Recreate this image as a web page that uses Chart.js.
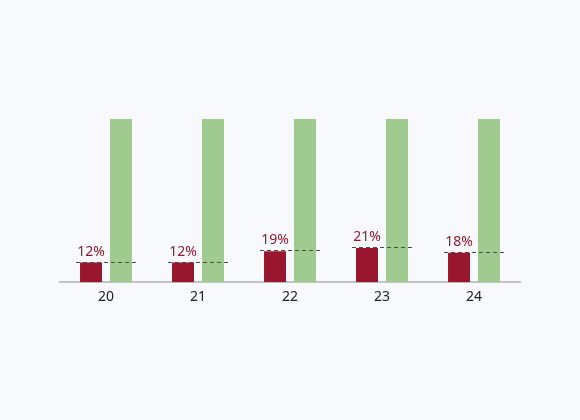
<!DOCTYPE html>
<html>
<head>
<meta charset="utf-8">
<script src="https://cdn.jsdelivr.net/npm/chart.js@4.4.1/dist/chart.umd.min.js"></script>
<style>
html,body{margin:0;padding:0;background:#f7f9fd;}
#wrap{width:580px;height:420px;}
</style>
</head>
<body>
<div id="wrap"><canvas id="c"></canvas></div>
<script>
const categories = ["20", "21", "22", "23", "24"];
const shareValues = [12, 12, 19, 21, 18];
const totalValues = [100, 100, 100, 100, 100];

const RED = "#98172e";
const GREEN = "#9fcb8f";

const overlayPlugin = {
  id: "overlay",
  afterDatasetsDraw(chart) {
    const ctx = chart.ctx;
    const m0 = chart.getDatasetMeta(0);
    const m1 = chart.getDatasetMeta(1);
    ctx.save();
    m0.data.forEach((bar, i) => {
      const g = m1.data[i];
      const x1 = bar.x - bar.width / 2 - 4;
      const x2 = g.x + g.width / 2 + 4;
      const y = Math.round(bar.y) - 0.5;
      ctx.beginPath();
      ctx.setLineDash([4, 3]);
      ctx.strokeStyle = "#4a4a4a";
      ctx.lineWidth = 1;
      ctx.moveTo(x1, y);
      ctx.lineTo(x2, y);
      ctx.stroke();
      ctx.setLineDash([]);
      ctx.fillStyle = RED;
      ctx.font = "14px 'Noto Sans'";
      ctx.textAlign = "center";
      ctx.textBaseline = "bottom";
      ctx.fillText(shareValues[i] + "%", bar.x, bar.y - 4);
    });
    ctx.restore();
  }
};

new Chart(document.getElementById("c"), {
  type: "bar",
  data: {
    labels: categories,
    datasets: [
      { data: shareValues, backgroundColor: RED, barPercentage: 0.733, categoryPercentage: 0.652 },
      { data: totalValues, backgroundColor: GREEN, barPercentage: 0.733, categoryPercentage: 0.652 }
    ]
  },
  options: {
    responsive: true,
    maintainAspectRatio: false,
    animation: false,
    layout: { padding: { left: 60, right: 60, top: 119, bottom: 109 } },
    plugins: { legend: { display: false }, tooltip: { enabled: false } },
    scales: {
      x: {
        grid: { display: false, drawTicks: false },
        border: { display: true, color: "#c4c4c4", width: 2 },
        ticks: { color: "#222", font: { family: "Noto Sans", size: 14 }, padding: 6 }
      },
      y: { display: false, min: 0, max: 100 }
    }
  },
  plugins: [overlayPlugin]
});
</script>
</body>
</html>
